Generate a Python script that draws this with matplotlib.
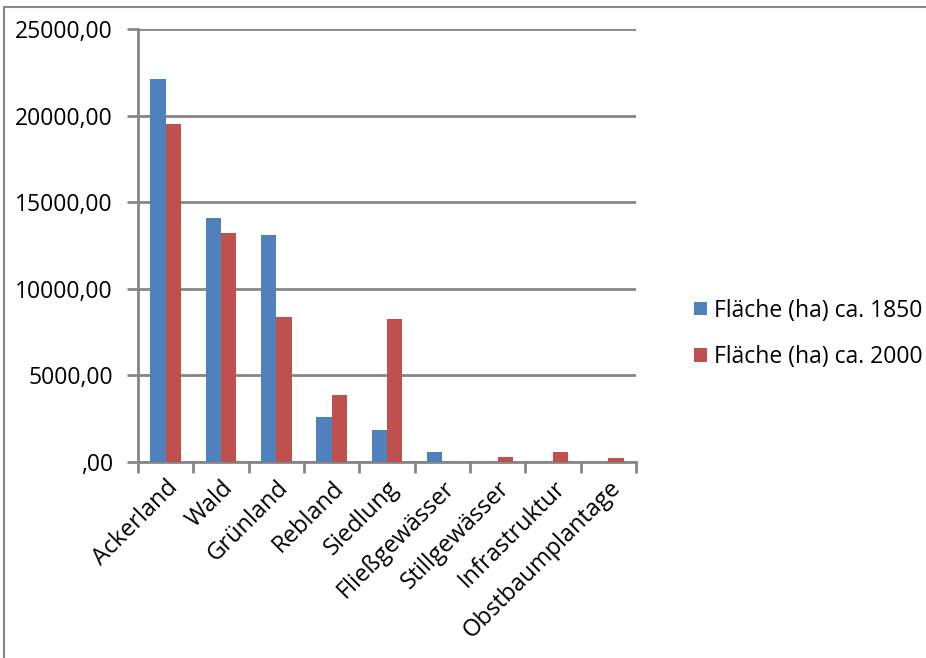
import matplotlib.pyplot as plt
import numpy as np
from matplotlib.patches import Rectangle
from matplotlib.ticker import FuncFormatter

plt.rcParams['font.family'] = ['Open Sans', 'DejaVu Sans']

categories = ["Ackerland", "Wald", "Grünland", "Rebland", "Siedlung",
              "Fließgewässer", "Stillgewässer", "Infrastruktur", "Obstbaumplantage"]
flaeche_1850 = [22100, 14100, 13100, 2600, 1850, 560, 0, 0, 0]
flaeche_2000 = [19500, 13200, 8350, 3850, 8250, 0, 270, 560, 210]
labels = ["Fläche (ha) ca. 1850", "Fläche (ha) ca. 2000"]

blue = "#4f81bd"
red = "#c0504d"
grid = "#868686"

fig = plt.figure(figsize=(9.26, 6.58), dpi=100)
ax = fig.add_axes([138 / 926, 1 - 462 / 658, (636 - 138) / 926, (462 - 29) / 658])

x = np.arange(len(categories))
w = 0.28
ax.bar(x - w / 2, flaeche_1850, w, color=blue, label=labels[0], zorder=3)
ax.bar(x + w / 2, flaeche_2000, w, color=red, label=labels[1], zorder=3)

ax.set_xlim(-0.5, len(categories) - 0.5)
ax.set_ylim(0, 25000)
ax.set_yticks(np.arange(0, 25001, 5000))
ax.yaxis.set_major_formatter(FuncFormatter(
    lambda v, p: ",00" if v == 0 else f"{int(v)},00"))
ax.yaxis.grid(True, color=grid, linewidth=2, zorder=0)

# category ticks sit between the groups
ax.set_xticks(np.arange(-0.5, len(categories) + 0.5, 1))
ax.set_xticklabels([])
ax.set_xticks(x, minor=True)
ax.set_xticklabels(categories, minor=True, rotation=45, ha="right",
                   rotation_mode="anchor", fontsize=17)
ax.tick_params(axis="x", which="minor", length=0, pad=10)
ax.tick_params(axis="x", which="major", length=8, width=2, color=grid)
ax.tick_params(axis="y", length=8, width=2, color=grid, labelsize=16.5, pad=10)

for side in ["top", "right"]:
    ax.spines[side].set_visible(False)
for side in ["left", "bottom"]:
    ax.spines[side].set_color(grid)
    ax.spines[side].set_linewidth(2)

ax.legend(loc="center left", bbox_to_anchor=(683 / 926, 1 - 334 / 658),
          bbox_transform=fig.transFigure, frameon=False, fontsize=16.5,
          borderpad=0, handlelength=0.55, handleheight=0.55,
          handletextpad=0.3, labelspacing=1.0)

# outer chart frame
fig.patches.append(Rectangle((4 / 926, -0.01), 1.02, 1 - 7 / 658 + 0.01,
                             transform=fig.transFigure, fill=False,
                             edgecolor=grid, linewidth=1.5))

fig.savefig("out.png", dpi=100)
